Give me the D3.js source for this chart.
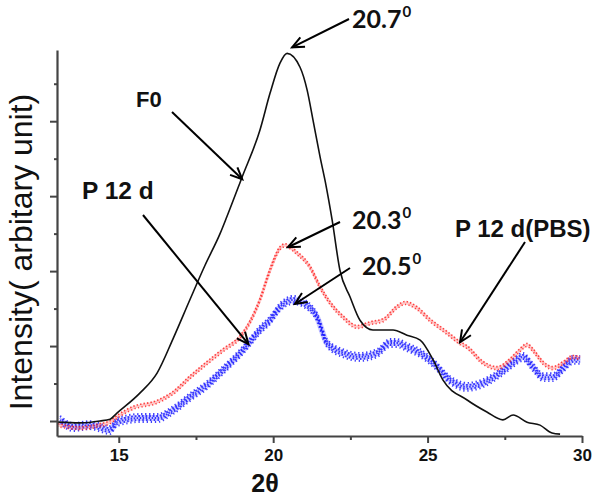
<!DOCTYPE html>
<html><head><meta charset="utf-8">
<script src="https://cdn.jsdelivr.net/npm/d3@7"></script>
<style>html,body{margin:0;padding:0;background:#fff;}svg{display:block;}</style>
</head><body>
<svg id="c" width="600" height="499"></svg>
<script>
// ---- data (2θ, intensity in arbitrary units) ----
const f0X = [13.03,13.74,14.39,14.72,14.94,15.69,16.24,16.76,17.31,17.79,18.28,18.5,18.99,19.57,19.9,20.22,20.45,20.87,21.1,21.29,21.52,21.71,21.91,22.16,22.49,22.81,23.23,23.88,24.33,24.76,25.18,25.5,26.28,26.92,27.44,27.77,28.22,28.64,29.03,29.29];
const f0Y = [-0.03,-0.05,0,0.05,0.21,0.75,1.28,2.2,3.25,4.15,5.0,5.45,6.5,7.76,8.75,9.55,9.81,9.44,8.83,8.03,7.04,6.29,5.36,4.03,3.31,2.69,2.43,2.43,2.29,2.16,1.63,1.09,0.56,0.24,0.03,0.16,-0.03,-0.11,-0.32,-0.35];
const pbsX = [13.03,13.74,14.39,14.72,14.98,15.46,16.24,16.76,17.31,17.86,18.38,18.93,19.25,19.57,19.9,20.22,20.38,20.77,21.19,21.52,21.84,22.26,22.72,23.14,23.56,24.01,24.27,24.66,25.08,25.63,26.05,26.28,26.8,27.25,27.67,27.99,28.22,28.41,28.74,29.06,29.39,29.71,29.94];
const pbsY = [-0.11,-0.19,-0.11,-0.03,0.13,0.35,0.51,0.75,1.17,1.55,1.89,2.24,2.64,3.23,4.03,4.61,4.69,4.48,4.11,3.57,3.15,2.77,2.51,2.61,2.69,3.04,3.15,3.01,2.69,2.35,2.08,1.97,1.55,1.41,1.63,1.89,2.03,1.89,1.55,1.41,1.55,1.71,1.68];
const p12X = [13.1,13.52,14.07,14.72,14.94,15.69,16.24,16.76,17.31,17.86,18.38,18.93,19.25,19.57,19.9,20.22,20.64,20.97,21.42,21.74,22.26,22.81,23.36,23.78,24.01,24.33,24.76,25.18,25.73,26.28,26.8,27.35,27.77,28.09,28.41,28.74,29.06,29.39,29.71,29.94];
const p12Y = [0.03,-0.16,-0.11,-0.24,-0.03,0.08,0.08,0.29,0.64,0.96,1.36,1.81,2.11,2.43,2.69,3.04,3.23,3.15,2.77,2.08,1.81,1.71,1.81,2.08,2.08,1.97,1.81,1.55,1.09,0.91,1.01,1.28,1.55,1.71,1.44,1.17,1.17,1.41,1.63,1.63];
const xMajor = [15,20,25,30];
const xMinor = [17.5,22.5,27.5];
const yMajor = [0,2,4,6,8];
const yMinor = [1,3,5,7,9];
const xTitle = "2θ";
const yTitle = "Intensity( arbitary unit)";
const seriesLabels = ["F0","P 12 d","P 12 d(PBS)"];
const peakLabels = ["20.7","20.3","20.5"];

const svg = d3.select("#c");
const x = d3.scaleLinear().domain([13,30]).range([57,582]);
const y = d3.scaleLinear().domain([-0.4,9.9]).range([436,50]);
const Y0 = y(-0.4), X0 = x(13);

const line = d3.line().x(d=>x(d[0])).y(d=>y(d[1])).curve(d3.curveMonotoneX);
const zip = (a,b)=>a.map((v,i)=>[v,b[i]]);

// blue speckled band (P 12 d)
const gB = svg.append("g");
gB.append("path").attr("d",line(zip(p12X,p12Y))).attr("fill","none")
  .attr("stroke","#4a4aff").attr("stroke-width",6).attr("opacity",0.28);
[[-4,"1.4 2.6",0],[-2,"1.8 1.8",1.2],[0,"1.5 1.5",0.4],[2,"1.6 2.2",2],[4,"1.3 2.8",0.7]].forEach(([o,da,off])=>{
  gB.append("path").attr("d",line(zip(p12X,p12Y))).attr("transform",`translate(0,${o})`)
    .attr("fill","none").attr("stroke","#1010ff").attr("stroke-width",1.9)
    .attr("stroke-dasharray",da).attr("stroke-dashoffset",off).attr("opacity",0.8);
});

// red speckled band (P 12 d(PBS))
const gR = svg.append("g");
gR.append("path").attr("d",line(zip(pbsX,pbsY))).attr("fill","none")
  .attr("stroke","#ff5050").attr("stroke-width",3).attr("opacity",0.3);
[[-1.5,"1.5 2",0],[1.5,"1.2 2.4",1]].forEach(([o,da,off])=>{
  gR.append("path").attr("d",line(zip(pbsX,pbsY))).attr("transform",`translate(0,${o})`)
    .attr("fill","none").attr("stroke","#ff1a1a").attr("stroke-width",1.6)
    .attr("stroke-dasharray",da).attr("stroke-dashoffset",off).attr("opacity",0.8);
});

// black F0 line
svg.append("path").attr("d",line(zip(f0X,f0Y))).attr("fill","none")
  .attr("stroke","#111").attr("stroke-width",1.6);

// axes
const axCol = "#444";
const xa = svg.append("g").attr("transform",`translate(0,${Y0})`);
xa.call(d3.axisBottom(x).tickValues(xMajor).tickSize(7).tickSizeOuter(0).tickPadding(6).tickFormat(d3.format("d")));
const xm = svg.append("g").attr("transform",`translate(0,${Y0})`);
xm.call(d3.axisBottom(x).tickValues(xMinor).tickSize(4).tickSizeOuter(0).tickFormat(""));
xm.select(".domain").remove();
const ya = svg.append("g").attr("transform",`translate(${X0},0)`);
ya.call(d3.axisLeft(y).tickValues(yMajor).tickSize(7).tickSizeOuter(0).tickFormat(""));
const ym = svg.append("g").attr("transform",`translate(${X0},0)`);
ym.call(d3.axisLeft(y).tickValues(yMinor).tickSize(3).tickSizeOuter(0).tickFormat(""));
ym.select(".domain").remove();
svg.selectAll(".domain").attr("stroke",axCol).attr("stroke-width",2.2);
svg.selectAll(".tick line").attr("stroke",axCol).attr("stroke-width",2);
xa.selectAll(".tick text").attr("font-family","Arial, 'Liberation Sans', sans-serif")
  .attr("font-weight","bold").attr("font-size",17).attr("fill","#111");

// titles
svg.append("text").attr("x",265).attr("y",492).attr("text-anchor","middle")
  .attr("font-family","Arial, 'Liberation Sans', sans-serif").attr("font-weight","bold")
  .attr("font-size",25).attr("fill","#111").text(xTitle);
svg.append("text").attr("transform","translate(32,252) rotate(-90)").attr("text-anchor","middle")
  .attr("font-family","Arial, 'Liberation Sans', sans-serif")
  .attr("font-size",32).attr("fill","#111").text(yTitle);

// arrows
function arrow(x1,y1,x2,y2){
  const g = svg.append("g").attr("stroke","#000").attr("stroke-width",2).attr("fill","none");
  g.append("line").attr("x1",x1).attr("y1",y1).attr("x2",x2).attr("y2",y2);
  const a = Math.atan2(y2-y1,x2-x1), L=13, s=0.42;
  g.append("path").attr("d",`M${x2-L*Math.cos(a-s)},${y2-L*Math.sin(a-s)}L${x2},${y2}L${x2-L*Math.cos(a+s)},${y2-L*Math.sin(a+s)}`);
}
arrow(172,112, x(19.0), y(6.45));        // F0
arrow(143,215, x(19.2), y(2.05));        // P 12 d
arrow(525,242, x(26.05), y(2.1));        // P 12 d(PBS)
arrow(349,19, x(20.45)+5, y(9.81)-6);    // 20.7
arrow(340,222, x(20.38)+3, y(4.69)+2);   // 20.3
arrow(350,268, x(20.64)+2, y(3.23)+4);   // 20.5

const lab = (t,xx,yy,fs)=>svg.append("text").attr("x",xx).attr("y",yy)
  .attr("font-family","Arial, 'Liberation Sans', sans-serif").attr("font-weight","bold")
  .attr("font-size",fs).attr("fill","#111").text(t);
lab(seriesLabels[0],136,107,22);
lab(seriesLabels[1],82,199,24.5);
lab(seriesLabels[2],455,237,24);

const peakPos = [[352,28],[352,229],[362,275]];
peakLabels.forEach((t,i)=>{
  const tx = svg.append("text").attr("x",peakPos[i][0]).attr("y",peakPos[i][1])
    .attr("font-family","Lato, 'Open Sans', sans-serif").attr("font-weight","bold")
    .attr("font-size",25).attr("fill","#111");
  tx.append("tspan").text(t);
  tx.append("tspan").attr("font-size",15).attr("dy",-11).attr("dx",1).text("0");
});
</script>
</body></html>
